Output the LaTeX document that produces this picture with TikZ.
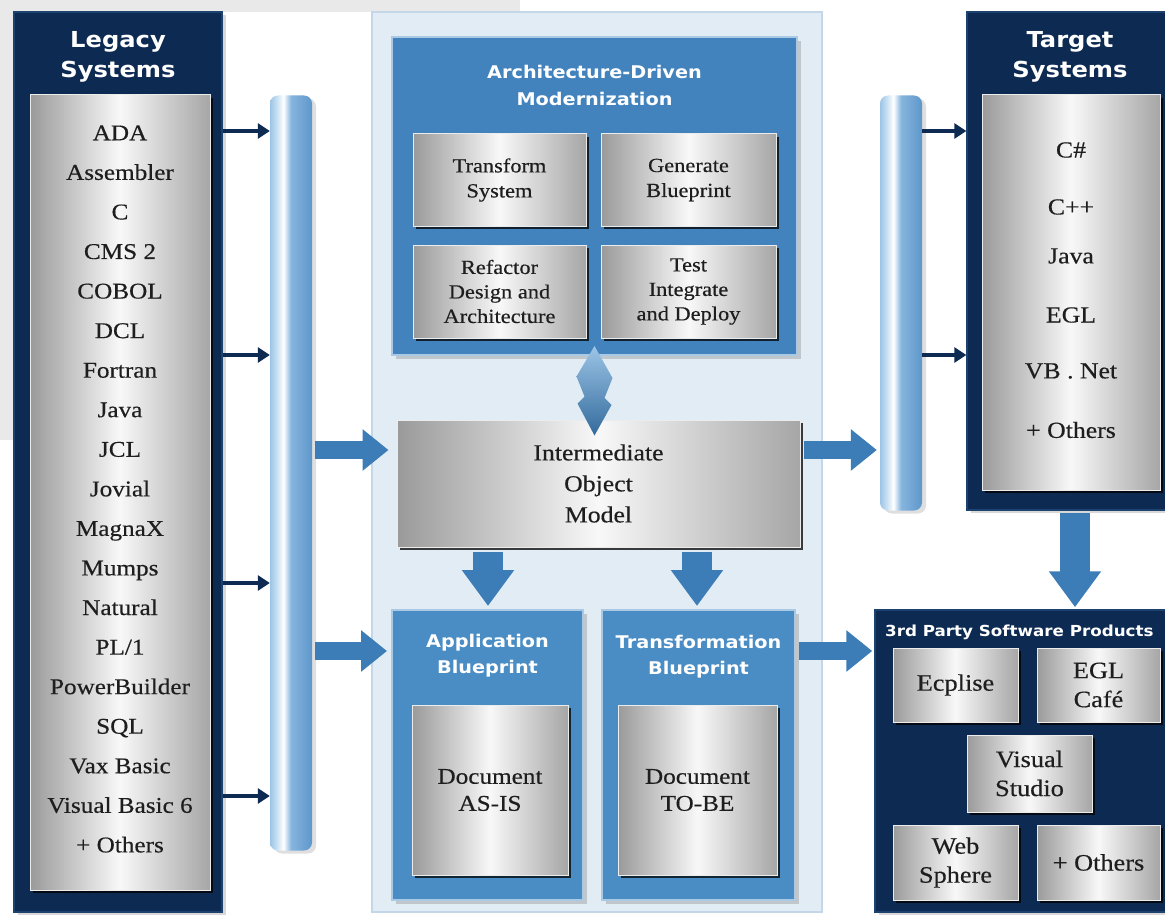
\documentclass[tikz,border=0pt]{standalone}
\usepackage{fontspec}
\setmainfont[FakeStretch=1.12,FakeBold=0.4]{Liberation Serif}
\newfontfamily\hdfont[FakeStretch=1.1]{DejaVu Sans}
\usetikzlibrary{arrows.meta,shadows,calc}

\definecolor{navy}{HTML}{0D2A52}
\definecolor{navyedge}{HTML}{1E4270}
\definecolor{midblue}{HTML}{4283BD}
\definecolor{bpblue}{HTML}{4A8CC4}
\definecolor{paleedge}{HTML}{A9C9E5}
\definecolor{panel}{HTML}{E2ECF5}
\definecolor{paneledge}{HTML}{C3D7E8}
\definecolor{arrowblue}{HTML}{3C7DB8}
\definecolor{silvA}{HTML}{9A9A9A}
\definecolor{silvB}{HTML}{A6A6A6}
\definecolor{silvC}{HTML}{F8F8F8}
\definecolor{ink}{HTML}{1E1E1E}
\definecolor{bggray}{HTML}{E9E9E9}
\definecolor{barA}{HTML}{9CC4E6}
\definecolor{barB}{HTML}{C9E0F2}
\definecolor{barC}{HTML}{86B5DE}
\definecolor{barD}{HTML}{5F97CB}

% cylinder-like shading for the two vertical collector bars
\pgfdeclarehorizontalshading{barshade}{100bp}{%
  color(0bp)=(barA); color(25bp)=(barA); color(33bp)=(barB);
  color(41bp)=(white); color(50bp)=(barC); color(75bp)=(barD);
  color(100bp)=(barD)}

\tikzset{
  navybox/.style={fill=navy, draw=navyedge, line width=1.5pt,
    drop shadow={opacity=0.3, shadow xshift=4pt, shadow yshift=-3pt}},
  bluebox/.style={fill=midblue, draw=paleedge, line width=2pt,
    drop shadow={opacity=0.35, shadow xshift=4pt, shadow yshift=-4pt}},
  silver/.style={left color=silvA, right color=silvB, middle color=silvC,
    draw=white!85!gray, line width=1pt, text=ink,
    drop shadow={fill=black, opacity=0.75, shadow xshift=3pt, shadow yshift=-3pt}},
  hdr/.style={text=white, align=center,
    font=\hdfont\bfseries\fontsize{22}{30}\selectfont},
  subhdr/.style={text=white, align=center,
    font=\hdfont\bfseries\fontsize{17.5}{27}\selectfont},
  item/.style={text=ink, align=center, font=\fontsize{23}{28}\selectfont},
  vbar/.style={shading=barshade, rounded corners=8pt,
    drop shadow={opacity=0.25, shadow xshift=4pt, shadow yshift=-3pt}},
  smallarrow/.style={draw=navy, line width=3.2pt,
    -{Triangle[length=12pt,width=15pt]}},
  bigarrow/.style={draw=arrowblue, line width=18pt,
    -{Triangle[length=26pt,width=40pt]}},
  downarrow/.style={draw=arrowblue, line width=30pt,
    -{Triangle[length=36pt,width=50pt]}},
}

\begin{document}
\begin{tikzpicture}[x=1pt,y=-1pt]
\useasboundingbox (0,0) rectangle (1165,915);
\fill[white] (0,0) rectangle (1165,915);
\fill[bggray] (0,0) rectangle (520,12);
\fill[bggray] (0,0) rectangle (14,440);

% ---------------- legacy systems ----------------
\node[navybox, minimum width=208pt, minimum height=900pt] (legacy) at (118,462) {};
\node[hdr] (legacyhdr) at (118,57) {Legacy\\Systems};
\node[silver, minimum width=180pt, minimum height=795pt] (legacyin) at (120,492.5) {};
\node[item, font=\fontsize{22.5}{39.56}\selectfont] (llist) at (120,489)
  {ADA\\Assembler\\C\\CMS 2\\COBOL\\DCL\\Fortran\\Java\\JCL\\Jovial\\MagnaX\\Mumps\\Natural\\PL/1\\PowerBuilder\\SQL\\Vax Basic\\Visual Basic 6\\+ Others};

% left collector bar
\node[vbar, minimum width=42pt, minimum height=755pt] (lbar) at (291,473) {};

% ---------------- central panel ----------------
\node[fill=panel, draw=paneledge, line width=2pt, minimum width=450pt,
  minimum height=900pt] (panel) at (597,462) {};

\node[bluebox, minimum width=405pt, minimum height=318pt] (adm) at (594.5,196) {};
\node[subhdr] (admhdr) at (594.5,85) {Architecture-Driven\\Modernization};

\node[silver, minimum width=173pt, minimum height=92pt, align=center,
  font=\fontsize{20}{25}\selectfont] (transform) at (499.5,180) {Transform\\System};
\node[silver, minimum width=175pt, minimum height=92pt, align=center,
  font=\fontsize{20}{25}\selectfont] (generate) at (688.5,180) {Generate\\Blueprint};
\node[silver, minimum width=173pt, minimum height=93pt, align=center,
  font=\fontsize{20}{24.5}\selectfont] (refactor) at (499.5,291.5) {Refactor\\Design and\\Architecture};
\node[silver, minimum width=175pt, minimum height=93pt, align=center,
  font=\fontsize{20}{24.5}\selectfont] (testint) at (688.5,291.5) {Test\\Integrate\\and Deploy};

\node[silver, minimum width=403pt, minimum height=127pt, align=center,
  font=\fontsize{23}{31}\selectfont] (inter) at (598.5,483.5) {Intermediate\\Object\\Model};

% two-way link between the modernization block and the object model
\coordinate (dtop) at ($(adm.south)+(0,-10)$);
\coordinate (dbot) at ($(inter.north)+(-4,16)$);
\shade[top color=barA, middle color=white, bottom color=arrowblue!85!black]
  (dtop) -- ++(18,32) -- ++(-8,20) -- ++(7,7) -- (dbot)
  -- ++(-17,-32) -- ++(7,-7) -- ++(-8,-20) -- cycle;

\node[bluebox, fill=bpblue, minimum width=191pt, minimum height=290pt] (appbp) at (487.5,755) {};
\node[subhdr, font=\hdfont\bfseries\fontsize{17.5}{26}\selectfont] (appbphdr) at (487.5,656) {Application\\Blueprint};
\node[silver, minimum width=156pt, minimum height=170pt, align=center,
  font=\fontsize{22.5}{27}\selectfont] (asis) at (490,790) {Document\\AS-IS};

\node[bluebox, fill=bpblue, minimum width=193pt, minimum height=290pt] (transbp) at (698.5,755) {};
\node[subhdr, font=\hdfont\bfseries\fontsize{17.5}{26}\selectfont] (transbphdr) at (698.5,657) {Transformation\\Blueprint};
\node[silver, minimum width=159pt, minimum height=170pt, align=center,
  font=\fontsize{22.5}{27}\selectfont] (tobe) at (697.5,790) {Document\\TO-BE};

% object model feeds both blueprints
\coordinate (dl) at (488,0);
\coordinate (dr) at (697,0);
\draw[downarrow] ($(inter.south -| dl)+(0,4)$) -- ($(appbp.north -| dl)+(0,-3)$);
\draw[downarrow] ($(inter.south -| dr)+(0,4)$) -- ($(transbp.north -| dr)+(0,-3)$);

% right collector bar
\node[vbar, minimum width=42pt, minimum height=415pt] (rbar) at (901,303) {};

% ---------------- target systems ----------------
\node[navybox, minimum width=202pt, minimum height=498pt] (target) at (1068,261) {};
\node[hdr] (targethdr) at (1070,57) {Target\\Systems};
\node[silver, minimum width=178pt, minimum height=395pt] (targetin) at (1071,292.5) {};
\node[item] (t1) at (1071,150) {C\#};
\node[item] (t2) at (1071,207) {C++};
\node[item] (t3) at (1071,256) {Java};
\node[item] (t4) at (1071,315) {EGL};
\node[item] (t5) at (1071,371) {VB . Net};
\node[item] (t6) at (1071,430) {+ Others};

% ---------------- third-party products ----------------
\node[navybox, minimum width=294pt, minimum height=302pt] (third) at (1022,761) {};
\node[anchor=west, inner sep=1pt, text=white, font=\hdfont\bfseries\fontsize{15.2}{18}\selectfont]
  (thirdhdr) at (884,632) {3rd Party Software Products};
\node[silver, minimum width=125pt, minimum height=74pt, align=center,
  font=\fontsize{23.5}{29}\selectfont] (eclipse) at (955.5,685) {Ecplise};
\node[silver, minimum width=123pt, minimum height=74pt, align=center,
  font=\fontsize{23.5}{29}\selectfont] (eglcafe) at (1098.5,685) {EGL\\Café};
\node[silver, minimum width=125pt, minimum height=77pt, align=center,
  font=\fontsize{23.5}{29}\selectfont] (vstudio) at (1029.5,773.5) {Visual\\Studio};
\node[silver, minimum width=125pt, minimum height=75pt, align=center,
  font=\fontsize{23.5}{29}\selectfont] (websphere) at (955.5,862.5) {Web\\Sphere};
\node[silver, minimum width=123pt, minimum height=75pt, align=center,
  font=\fontsize{23.5}{29}\selectfont] (others) at (1098.5,862.5) {+ Others};

% ---------------- connectors ----------------
\coordinate (ya) at (0,131);
\coordinate (yb) at (0,355);
\coordinate (yc) at (0,583);
\coordinate (yd) at (0,796);
\coordinate (ym) at (0,450);
\coordinate (yl) at (0,651);
\coordinate (xt) at (1075,0);

\foreach \yy in {ya,yb,yc,yd}
  \draw[smallarrow] (legacy.east |- \yy) -- (lbar.west |- \yy);
\foreach \yy in {ya,yb}
  \draw[smallarrow] (rbar.east |- \yy) -- (target.west |- \yy);

\draw[bigarrow, shorten <=3pt, shorten >=8pt] (lbar.east |- ym) -- (inter.west |- ym);
\draw[bigarrow, shorten <=3pt, shorten >=4pt] (lbar.east |- yl) -- (appbp.west |- yl);
\draw[bigarrow, shorten <=3pt, shorten >=3pt] (inter.east |- ym) -- (rbar.west |- ym);
\draw[bigarrow, shorten <=3pt, shorten >=2pt] (transbp.east |- yl) -- (third.west |- yl);
\draw[downarrow, shorten <=2pt, shorten >=2pt] (target.south -| xt) -- (third.north -| xt);
\end{tikzpicture}
\end{document}
